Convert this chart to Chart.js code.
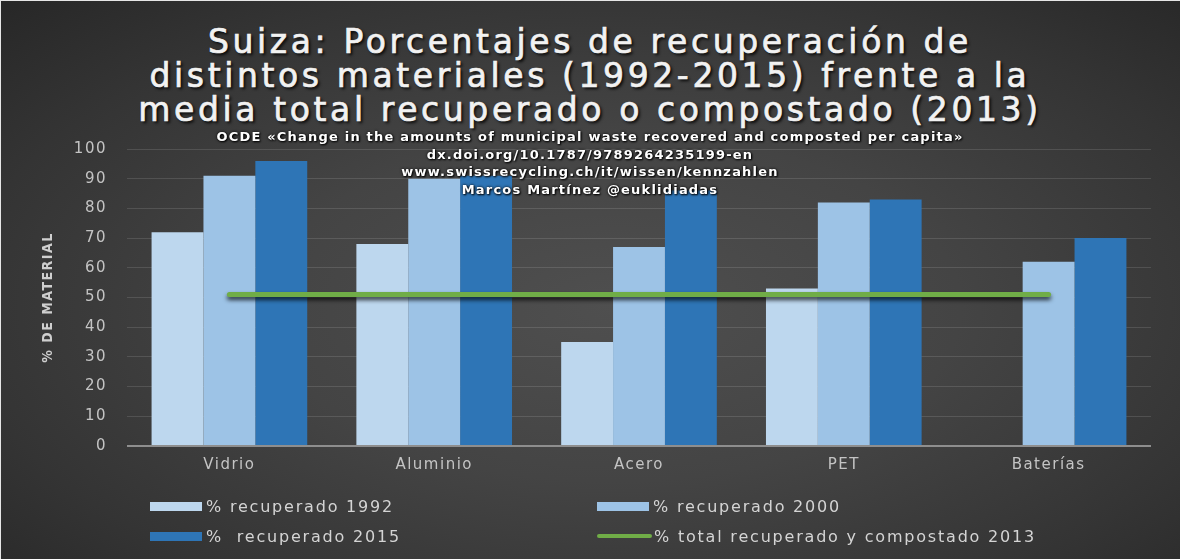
<!DOCTYPE html>
<html lang="es">
<head>
<meta charset="utf-8">
<title>Suiza: porcentajes de recuperación</title>
<script src="https://cdn.jsdelivr.net/npm/chart.js@4.4.1/dist/chart.umd.min.js"></script>
<style>
    html, body { margin: 0; padding: 0; background: #fff; }
    #wrap {
        position: relative;
        width: 1180px;
        height: 559px;
        overflow: hidden;
        background: radial-gradient(ellipse at 52% 55%, #4f4f4f 0%, #444 40%, #343434 75%, #272727 100%);
        box-shadow: inset 1px 1px 0 #e6e6e6;
    }
    #chart { position: absolute; left: 0; top: 0; }
    #title {
        position: absolute;
        left: 0; top: 25px; width: 1180px;
        text-align: center;
        font-family: 'DejaVu Sans', sans-serif;
        font-size: 33px;
        line-height: 34px;
        letter-spacing: 3.6px;
        color: #f2f2f2;
        -webkit-text-stroke: 0.7px #f2f2f2;
        text-shadow: 2px 2px 3px rgba(0,0,0,0.9);
    }
    #credits {
        position: absolute;
        left: 0; top: 128px; width: 1180px;
        text-align: center;
        font-family: 'DejaVu Sans', sans-serif;
        font-weight: bold;
        font-size: 13px;
        line-height: 17.7px;
        letter-spacing: 1.2px;
        color: #fff;
        text-shadow: 1px 1px 2px #000, 0 0 3px #000;
        z-index: 2;
    }
    #legend {
        position: absolute;
        left: 150px; top: 496px;
        display: grid;
        grid-template-columns: 447px auto;
        grid-auto-rows: 30px;
        font-family: 'DejaVu Sans', sans-serif;
        font-size: 16px;
        letter-spacing: 1.8px;
        color: #d4d4d4;
    }
    #legend .item { display: flex; align-items: center; height: 20px; white-space: pre; }
    #legend .box { width: 52px; height: 9px; margin-right: 4px; }
    #legend .line { width: 55px; height: 4px; border-radius: 2px; margin-right: 2px; }
</style>
</head>
<body>
<div id="wrap">
    <div id="title">Suiza: Porcentajes de recuperación de<br>distintos materiales (1992-2015) frente a la<br>media total recuperado o compostado (2013)</div>
    <div id="credits">OCDE «Change in the amounts of municipal waste recovered and composted per capita»<br>dx.doi.org/10.1787/9789264235199-en<br>www.swissrecycling.ch/it/wissen/kennzahlen<br>Marcos Martínez @euklidiadas</div>
    <canvas id="chart" width="1180" height="559"></canvas>
    <div id="legend"></div>
</div>
<script>
// categories and series
const categories = ['Vidrio', 'Aluminio', 'Acero', 'PET', 'Baterías'];
const rec1992 = [72, 68, 35, 53, null];
const rec2000 = [91, 90, 67, 82, 62];
const rec2015 = [96, 91, 86, 83, 70];
const total2013 = [51, 51, 51, 51, 51];
const seriesLabels = ['% recuperado 1992', '% recuperado 2000', '%  recuperado 2015', '% total recuperado y compostado 2013'];
const yMin = 0, yMax = 100, yStep = 10;

// stretch the canvas text a bit, like the original
const spacing = {
    id: 'spacing',
    beforeDraw(chart) { chart.ctx.letterSpacing = '1.5px'; }
};

// dark shadow under the green line
const lineShadow = {
    id: 'lineShadow',
    beforeDatasetDraw(chart, args) {
        const ctx = chart.ctx;
        ctx.save();
        if (args.meta.type === 'line') {
            ctx.shadowColor = 'rgba(0,0,0,0.75)';
            ctx.shadowBlur = 4;
            ctx.shadowOffsetY = 3;
        }
    },
    afterDatasetDraw(chart) { chart.ctx.restore(); }
};

const chart = new Chart(document.getElementById('chart').getContext('2d'), {
    type: 'bar',
    data: {
        labels: categories,
        datasets: [
            { label: seriesLabels[0], data: rec1992, backgroundColor: '#bdd7ee', categoryPercentage: 0.76, barPercentage: 1, order: 1 },
            { label: seriesLabels[1], data: rec2000, backgroundColor: '#9dc3e6', categoryPercentage: 0.76, barPercentage: 1, order: 1 },
            { label: seriesLabels[2], data: rec2015, backgroundColor: '#2e75b6', categoryPercentage: 0.76, barPercentage: 1, order: 1 },
            {
                type: 'line',
                label: seriesLabels[3],
                data: total2013,
                borderColor: '#70ad47',
                backgroundColor: '#70ad47',
                borderWidth: 5,
                borderCapStyle: 'round',
                pointRadius: 0,
                fill: false,
                order: 0
            }
        ]
    },
    options: {
        responsive: false,
        animation: false,
        layout: { padding: { top: 149, right: 29, bottom: 83, left: 30 } },
        plugins: {
            legend: { display: false },
            tooltip: { enabled: false }
        },
        scales: {
            x: {
                grid: { display: false, drawTicks: false },
                border: { display: false },
                ticks: {
                    color: '#c4c4c4',
                    padding: 10,
                    font: { family: 'DejaVu Sans', size: 15 }
                },
                afterFit(scale) { scale.height = 30; }
            },
            y: {
                min: yMin,
                max: yMax,
                border: { display: false },
                grid: {
                    drawTicks: false,
                    color: c => c.tick.value === 0 ? '#8e8e8e' : 'rgba(255,255,255,0.12)',
                    lineWidth: c => c.tick.value === 0 ? 2 : 1
                },
                ticks: {
                    stepSize: yStep,
                    color: '#c4c4c4',
                    padding: 20,
                    font: { family: 'DejaVu Sans', size: 15 }
                },
                title: {
                    display: true,
                    text: '% DE MATERIAL',
                    color: '#cfcfcf',
                    padding: { top: 10, bottom: 0 },
                    font: { family: "'DejaVu Sans Condensed', 'Liberation Sans', sans-serif", weight: 'bold', size: 14 }
                },
                afterFit(scale) { scale.width = 97; }
            }
        }
    },
    plugins: [spacing, lineShadow]
});

// legend in two columns, built from the chart's datasets
const legend = document.getElementById('legend');
chart.data.datasets.forEach(ds => {
    const item = document.createElement('div');
    item.className = 'item';
    const sw = document.createElement('span');
    sw.className = ds.type === 'line' ? 'line' : 'box';
    sw.style.background = ds.type === 'line' ? ds.borderColor : ds.backgroundColor;
    item.appendChild(sw);
    item.appendChild(document.createTextNode(ds.label));
    legend.appendChild(item);
});
</script>
</body>
</html>
